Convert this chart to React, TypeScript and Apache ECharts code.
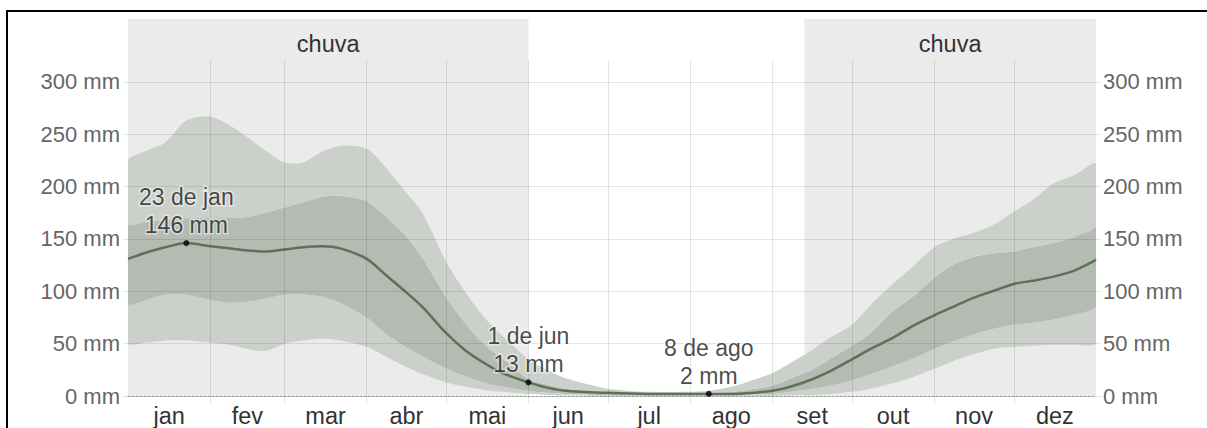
import React, { useEffect, useRef } from "react";
import * as echarts from "echarts";

const MONTHS = ["jan", "fev", "mar", "abr", "mai", "jun", "jul", "ago", "set", "out", "nov", "dez"];
const MONTH_START = [0, 31, 59, 90, 120, 151, 181, 212, 243, 273, 304, 334, 365];
const MONTH_MID = [15.5, 45, 74.5, 105, 135.5, 166, 196.5, 227.5, 258, 288.5, 319, 349.5];
const Y_TICKS = [0, 50, 100, 150, 200, 250, 300];

// day of year of each sample
const DAYS = [0, 7, 14, 22, 31, 38, 45, 52, 59, 66, 73, 80, 90, 97, 104, 111, 120, 127, 134, 141, 151, 158, 165, 181, 196, 212, 219, 228, 243, 250, 258, 265, 273, 280, 288, 296, 304, 311, 319, 326, 334, 341, 349, 357, 365];
// 10th percentile
const P10 = [50, 51, 53, 53, 51, 49, 45, 43, 50, 53, 55, 53, 47, 38, 29, 21, 13, 9, 6, 4, 2, 1, 0.5, 0, 0, 0, 0, 0, 0, 0.5, 1, 2, 4, 7, 12, 18, 26, 33, 40, 45, 47, 48, 49, 49, 50];
// 25th percentile
const P25 = [88, 92, 97, 97, 92, 89, 90, 93, 97, 97, 95, 89, 75, 60, 48, 38, 26, 19, 13, 9, 5, 3, 2, 1, 1, 1, 1, 1, 2, 4, 7, 10, 15, 21, 28, 36, 45, 52, 59, 64, 68, 70, 73, 78, 86];
// median
const P50 = [131, 137, 142, 146, 143, 141, 139, 138, 140, 142, 143, 141, 131, 116, 101, 85, 60, 44, 32, 22, 13, 8, 5, 3, 2, 2, 2, 2, 5, 9, 16, 24, 35, 45, 55, 67, 77, 85, 94, 100, 107, 110, 114, 120, 130];
// 75th percentile
const P75 = [164, 166, 168, 170, 170, 170, 171, 175, 180, 185, 190, 191, 186, 172, 155, 132, 94, 70, 50, 36, 16, 11, 7, 3, 2, 2, 3, 4, 10, 17, 25, 36, 48, 60, 80, 95, 113, 125, 133, 136, 138, 142, 146, 152, 162];
// 90th percentile
const P90 = [225, 234, 242, 263, 267, 259, 247, 234, 223, 223, 233, 239, 236, 219, 197, 175, 128, 100, 76, 58, 35, 25, 17, 7, 4, 4, 5, 9, 22, 32, 44, 56, 68, 87, 106, 124, 142, 150, 156, 163, 176, 187, 203, 211, 222];

const RAIN_SEASONS = [[0, 151], [255, 365]];
const RAIN_LABEL = "chuva";
const ANNOT_DAYS = [22, 151, 219];
const ANNOT_VALUES = [146, 13, 2];
const ANNOT_DATES = ["23 de jan", "1 de jun", "8 de ago"];

const Y_MAX = 360;
const VGRID_TOP = 321;

const FONT = "'Liberation Sans', Arial, sans-serif";
const OUTER = "#cbd1ca";
const INNER = "#b4bbb2";
const LINE = "#5e7158";
const GRID = "rgba(0,0,0,0.1)";

// bands: [lower, upper, colour]
const BANDS: [number[], number[], string][] = [
  [P10, P25, OUTER],
  [P25, P75, INNER],
  [P75, P90, OUTER],
];

const pairs = (vals: number[]) => DAYS.map((d, i) => [d, vals[i]]);

export default function App() {
  const ref = useRef<HTMLDivElement>(null);
  useEffect(() => {
    const chart = echarts.init(ref.current!, null, { renderer: "svg" });
    const yAxisBase = {
      type: "value",
      min: 0,
      max: Y_MAX,
      z: 3,
      axisLine: { show: false },
      axisTick: { show: true, customValues: Y_TICKS, length: 5, lineStyle: { color: GRID } },
      axisLabel: {
        customValues: Y_TICKS,
        formatter: (v: number) => `${v} mm`,
        color: "#666",
        fontSize: 22,
        fontFamily: FONT,
      },
    };
    chart.setOption({
      animation: false,
      textStyle: { fontFamily: FONT },
      grid: { left: 128, right: 111, top: 19, bottom: 31 },
      xAxis: {
        type: "value",
        min: 0,
        max: 365,
        z: 3,
        splitLine: { show: false },
        axisLine: { show: true, lineStyle: { color: "#999", type: [2, 2], width: 1 } },
        axisTick: { show: true, customValues: MONTH_START.slice(1, -1), length: 8, lineStyle: { color: GRID } },
        axisLabel: {
          customValues: MONTH_MID,
          formatter: (v: number) => MONTHS[MONTH_MID.indexOf(v)] ?? "",
          color: "#333",
          fontSize: 23.5,
          fontFamily: FONT,
          margin: 8,
        },
      },
      yAxis: [
        {
          ...yAxisBase,
          position: "left",
          splitLine: { show: true, lineStyle: { color: GRID, width: 1 } },
          axisLabel: { ...yAxisBase.axisLabel, margin: 8 },
        },
        {
          ...yAxisBase,
          position: "right",
          splitLine: { show: false },
          axisLabel: { ...yAxisBase.axisLabel, margin: 7 },
        },
      ],
      series: [
        {
          type: "line",
          name: "rain",
          z: 1,
          data: [],
          markArea: {
            silent: true,
            itemStyle: { color: "#ebebeb" },
            label: {
              show: true,
              position: "insideTop",
              distance: 13,
              color: "#333",
              fontSize: 23.5,
              fontFamily: FONT,
            },
            data: RAIN_SEASONS.map(([a, b]) => [{ xAxis: a, name: RAIN_LABEL }, { xAxis: b }]),
          },
        },
        {
          type: "custom",
          z: 2,
          silent: true,
          clip: true,
          coordinateSystem: "cartesian2d",
          data: BANDS.map((_, i) => [i, 0]),
          renderItem: (params: any, api: any) => {
            const band = BANDS[params.dataIndex];
            if (!band) return null;
            const [lower, upper, color] = band;
            const top = DAYS.map((d, i) => api.coord([d, upper[i]]));
            const bottom = DAYS.map((d, i) => api.coord([d, lower[i]])).reverse();
            const cs = params.coordSys;
            return {
              type: "group",
              children: [
                {
                  type: "polygon",
                  shape: { points: top.concat(bottom), smooth: 0.25 },
                  style: { fill: color },
                },
              ],
              clipPath: {
                type: "rect",
                shape: { x: cs.x, y: cs.y, width: cs.width, height: cs.height },
              },
            };
          },
        },
        {
          type: "line",
          z: 3,
          data: [],
          markLine: {
            silent: true,
            symbol: "none",
            label: { show: false },
            lineStyle: { color: GRID, type: "solid", width: 1 },
            data: MONTH_START.slice(1, -1).map((d) => [
              { coord: [d, 0] },
              { coord: [d, VGRID_TOP] },
            ]),
          },
        },
        {
          type: "line",
          z: 4,
          data: pairs(P50),
          symbol: "none",
          smooth: 0.3,
          lineStyle: { color: LINE, width: 2.5 },
        },
        {
          type: "scatter",
          z: 5,
          data: ANNOT_DAYS.map((d, i) => [d, ANNOT_VALUES[i]]),
          symbol: "circle",
          symbolSize: 6,
          itemStyle: { color: "#000" },
          label: {
            show: true,
            position: "top",
            distance: 1,
            formatter: (p: any) => `${ANNOT_DATES[p.dataIndex]}\n${ANNOT_VALUES[p.dataIndex]} mm`,
            color: "#1a1a1a",
            fontSize: 23,
            lineHeight: 28,
            fontFamily: FONT,
            textBorderColor: "rgba(255,255,255,0.6)",
            textBorderWidth: 3,
          },
        },
      ],
    });
    return () => chart.dispose();
  }, []);
  return (
    <div style={{ position: "fixed", left: 0, top: 0, width: 1207, height: 428, overflow: "hidden", background: "#fff" }}>
      <div
        style={{
          position: "absolute",
          left: 6,
          top: 10,
          width: 1300,
          height: 500,
          border: "2px solid #000",
          boxSizing: "border-box",
        }}
      />
      <div ref={ref} style={{ position: "absolute", left: 0, top: 0, width: 1207, height: 428 }} />
    </div>
  );
}
